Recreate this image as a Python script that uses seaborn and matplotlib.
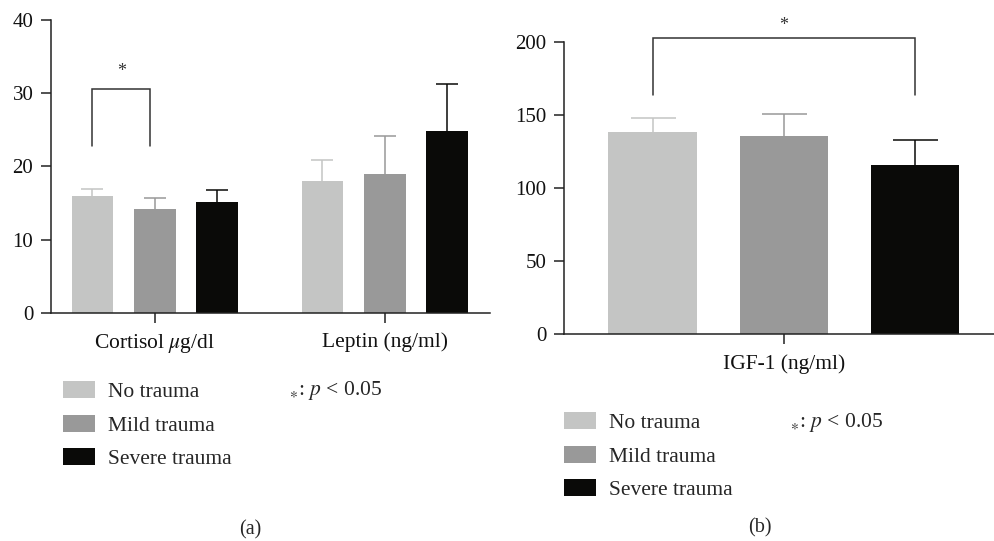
import matplotlib
matplotlib.use("Agg")
import matplotlib.pyplot as plt
import seaborn as sns
import pandas as pd
from matplotlib.patches import Patch
from matplotlib.container import BarContainer

# ---- data ----
groups = ["No trauma", "Mild trauma", "Severe trauma"]
colors = ["#c4c5c4", "#999999", "#0a0a08"]

markers_a = ["Cortisol $\\mu$g/dl", "Leptin (ng/ml)"]
cortisol_mean = [15.9, 14.2, 15.1]
cortisol_err = [1.0, 1.5, 1.7]
leptin_mean = [18.0, 18.9, 24.8]
leptin_err = [2.8, 5.2, 6.4]

markers_b = ["IGF-1 (ng/ml)"]
igf_mean = [138.6, 135.8, 116.0]
igf_err = [9.4, 15.1, 17.3]

yticks_a = [0, 10, 20, 30, 40]
yticks_b = [0, 50, 100, 150, 200]
sig_text = r"$_{\ast}$: $p$ < 0.05"

# ---- style ----
sns.set_style("white")
plt.rcParams["font.family"] = ["Liberation Serif", "DejaVu Serif"]
plt.rcParams["mathtext.fontset"] = "stix"
FS = 15.5
TFS = 15
INK = "#222222"

W, H = 995, 541
fig = plt.figure(figsize=(W / 100, H / 100), dpi=100)

def px_axes(left, right, top, bottom):
    return fig.add_axes([left / W, 1 - bottom / H, (right - left) / W, (bottom - top) / H])

ax_a = px_axes(51, 490, 20, 312.7)
ax_b = px_axes(564.3, 994, 42.3, 334.3)

df_a = pd.DataFrame({
    "marker": [markers_a[0]] * 3 + [markers_a[1]] * 3,
    "group": groups * 2,
    "value": cortisol_mean + leptin_mean,
    "err": cortisol_err + leptin_err,
})
df_b = pd.DataFrame({
    "marker": markers_b * 3,
    "group": groups,
    "value": igf_mean,
    "err": igf_err,
})

def draw(ax, df, markers, width, capsize):
    sns.barplot(data=df, x="marker", y="value", hue="group", hue_order=groups,
                order=markers, palette=colors, saturation=1, width=width, gap=0.33,
                errorbar=None, legend=False, linewidth=0, ax=ax)
    conts = [c for c in ax.containers if isinstance(c, BarContainer)]
    centers = {}
    for h, cont in enumerate(conts):
        for c, bar in enumerate(cont.patches):
            x = bar.get_x() + bar.get_width() / 2
            y = bar.get_height()
            row = df[(df.group == groups[h]) & (df.marker == markers[c])].iloc[0]
            _, caps, _ = ax.errorbar([x], [y], yerr=[[0], [row.err]], fmt="none",
                                     ecolor=colors[h], elinewidth=1.1, capsize=capsize,
                                     capthick=1.1, zorder=1)
            if len(caps) == 2:
                caps[0].set_visible(False)
            centers[(h, c)] = x
    for s in ["top", "right"]:
        ax.spines[s].set_visible(False)
    for s in ["left", "bottom"]:
        ax.spines[s].set_linewidth(1.1)
        ax.spines[s].set_color(INK)
    ax.tick_params(axis="both", direction="out", length=7.2, width=1.1, color=INK,
                   labelsize=TFS, labelcolor="#111111", left=True, bottom=True)
    ax.tick_params(axis="x", pad=7, labelsize=FS)
    ax.tick_params(axis="y", pad=5.5)
    ax.set_xlabel("")
    ax.set_ylabel("")
    return centers

ca = draw(ax_a, df_a, markers_a, 0.815, 7.6)
ax_a.set_xlim(-0.452, 1.457)
ax_a.set_ylim(0, 40)
ax_a.set_yticks(yticks_a)

cb = draw(ax_b, df_b, markers_b, 0.8, 16.2)
ax_b.set_xlim(-0.4456, 0.426)
ax_b.set_ylim(0, 200)
ax_b.set_yticks(yticks_b)

def bracket(ax, x1, x2, ytop, ybot, ystar):
    ax.plot([x1, x1, x2, x2], [ybot, ytop, ytop, ybot], color="#333333", lw=1.1,
            clip_on=False, solid_joinstyle="miter")
    ax.text((x1 + x2) / 2, ystar, "*", ha="center", va="center", fontsize=13,
            color="#333333", clip_on=False)

bracket(ax_a, ca[(0, 0)], ca[(1, 0)] - 0.02, 30.55, 22.8, 33.0)
bracket(ax_b, cb[(0, 0)], cb[(2, 0)], 203.2, 163.9, 211.5)

handles = [Patch(facecolor=c, edgecolor="none") for c in colors]

def legend_at(x, y):
    fig.legend(handles, groups, loc="upper left", bbox_to_anchor=(x / W, 1 - y / H),
               frameon=False, fontsize=FS, handlelength=1.49, handleheight=0.84,
               handletextpad=0.6, labelspacing=0.59, borderpad=0, borderaxespad=0)

legend_at(63, 381)
legend_at(564, 412)

fig.text(289 / W, 1 - 390 / H, sig_text, fontsize=FS, va="center", ha="left")
fig.text(790 / W, 1 - 422 / H, sig_text, fontsize=FS, va="center", ha="left")
fig.text(250 / W, 1 - 530 / H, "(a)", fontsize=FS - 1, va="center", ha="center")
fig.text(760 / W, 1 - 528 / H, "(b)", fontsize=FS - 1, va="center", ha="center")

fig.savefig("out.png", dpi=100)
